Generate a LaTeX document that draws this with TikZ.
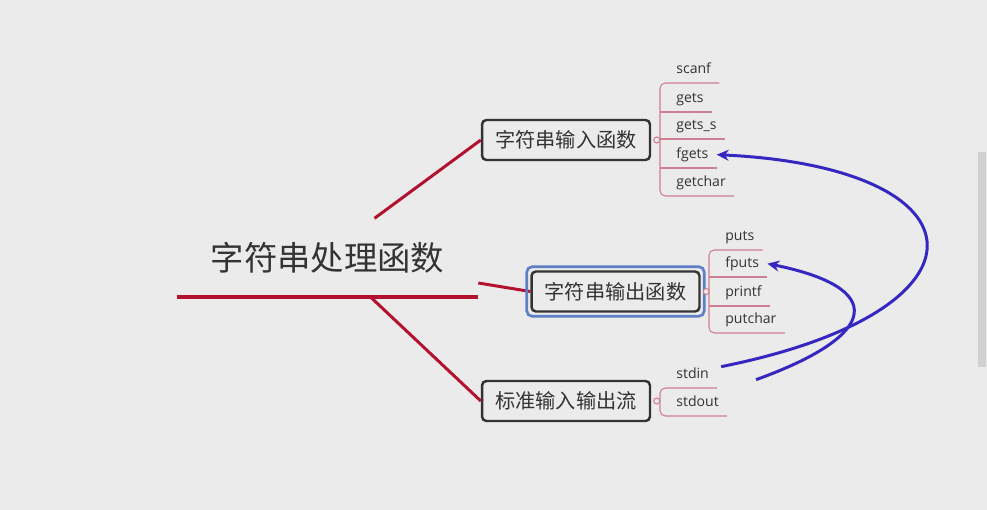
\documentclass[tikz,border=0pt]{standalone}
\usepackage{fontspec}
\setmainfont{Open Sans}
\newfontfamily\cjk{Noto Sans CJK SC}
\usepackage{tikz}
\usetikzlibrary{calc,shapes,positioning}
\usetikzlibrary{fit}
\usetikzlibrary{arrows.meta}
\tikzset{>={Stealth[width=2.2mm,length=2.4mm]}}
\definecolor{bgc}{HTML}{EBEBEB}
\definecolor{rootred}{HTML}{B3122E}
\definecolor{twigred}{HTML}{CF7F93}
\definecolor{linkblue}{HTML}{3527C0}
\definecolor{hlblue}{HTML}{5C7FC6}
\definecolor{inkgray}{HTML}{333333}

\begin{document}
\begin{tikzpicture}[x=0.02cm,y=-0.02cm]
        \tikzstyle{tnode} = [font=\cjk\fontsize{19}{22}\selectfont, text=inkgray, minimum width=6.02cm, minimum height=1.56cm, inner sep=0pt]
        \tikzstyle{bnode} = [draw=inkgray, line width=1.4pt, rounded corners=2.5pt, fill=bgc, minimum width=3.36cm, minimum height=0.8cm, text=inkgray, font=\cjk\fontsize{11.5}{14}\selectfont]
        \tikzstyle{leaf} = [anchor=south west, font=\fontsize{8}{10}\selectfont, text=inkgray, text height=6pt, text depth=2pt, minimum height=0.52cm, inner xsep=0.16cm, inner ysep=0pt]
        \tikzstyle{knob} = [circle, draw=twigred, fill=bgc, line width=0.6pt, minimum size=0.12cm, inner sep=0pt]
        \tikzstyle{branch} = [rootred, line width=1.7pt]
        \tikzstyle{twig} = [twigred, line width=0.6pt]
        \tikzstyle{link} = [->, linkblue, line width=1.7pt]

        \useasboundingbox (0,0) rectangle (987,510);
        \fill[bgc] (0,0) rectangle (987,510);
        % scrollbar
        \fill[black!8] (977,0) rectangle (987,510);
        \fill[black!18] (978,152) rectangle (986,367);

        \node[tnode, anchor=south] (root) at (327.5,297) {字符串处理函数};
        \draw[rootred, line width=2.3pt] (root.south west) -- (root.south east);

        \node[bnode] (inp) at (566,140) {字符串输入函数};
        \node[bnode] (outp) at (615.5,291.5) {字符串输出函数};
        \node[bnode] (std) at (566,401) {标准输入输出流};

        \draw[branch] ($(root.north)+(47,0)$) -- (inp.west);
        \draw[branch] ($(root.south east)+(0,-14)$) -- (outp.west);
        \draw[branch] ($(root.south)+(43,0)$) -- (std.west);
        \node[fit=(outp), draw=hlblue, line width=1.5pt, rounded corners=3pt, inner sep=2pt] (sel) {};

        \node[knob, right=0.04cm of inp] (inpK) {};
        \node[knob, right=0.04cm of outp] (outpK) {};
        \node[knob, right=0.04cm of std] (stdK) {};

        % input functions
        \coordinate (brI) at (660,83);
        \node[leaf] (scanf) at (668,83) {scanf};
        \node[leaf] (gets) at (668,112) {gets};
        \node[leaf] (getss) at (668,139) {gets\_s};
        \node[leaf] (fgets) at (668,168) {fgets};
        \node[leaf] (getchar) at (668,196) {getchar};
        \draw[twig, rounded corners=3pt] (scanf.south east) -- (brI) -- (brI |- getchar.south) -- (getchar.south east);
        \foreach \n in {gets,getss,fgets} \draw[twig] (brI |- \n.south) -- (\n.south east);

        % output functions
        \coordinate (brO) at (709,250);
        \node[leaf] (puts) at (717,250) {puts};
        \node[leaf] (fputs) at (717,277) {fputs};
        \node[leaf] (printf) at (717,306) {printf};
        \node[leaf] (putchar) at (717,333) {putchar};
        \draw[twig, rounded corners=3pt] (puts.south east) -- (brO) -- (brO |- putchar.south) -- (putchar.south east);
        \foreach \n in {fputs,printf} \draw[twig] (brO |- \n.south) -- (\n.south east);

        % streams
        \coordinate (brS) at (660,388);
        \node[leaf] (stdin) at (668,388) {stdin};
        \node[leaf] (stdout) at (668,416) {stdout};
        \draw[twig, rounded corners=3pt] (stdin.south east) -- (brS) -- (brS |- stdout.south) -- (stdout.south east);

        \draw[link] ($(stdin.east)+(4,-8)$) .. controls +(280,-56) and +(273,13) .. (fgets.east);
        \draw[link] ($(stdout.east)+(29,-23)$) .. controls +(125,-45) and +(119,24) .. (fputs.east);
      \end{tikzpicture}
\end{document}
